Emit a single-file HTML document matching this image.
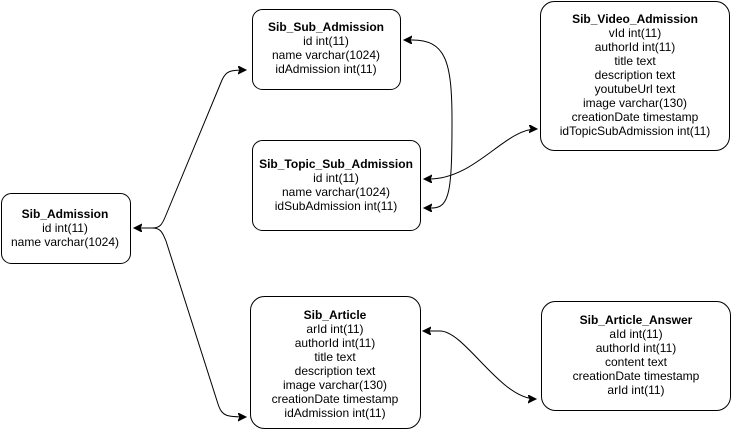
<!DOCTYPE html>
<html><head><style>
html,body{margin:0;padding:0;background:#fff;}
svg{display:block;}
text{font-family:"Liberation Sans",Arial,sans-serif;font-size:12px;fill:#000;text-anchor:middle;}
.b{font-weight:bold;}
rect{fill:#fff;stroke:#000;stroke-width:1;}
path{fill:none;stroke:#000;stroke-width:1;}
.ah{fill:#000;stroke:#000;}
</style></head><body>
<svg width="732" height="432" viewBox="0 0 732 432">
<defs>
<marker id="a" markerWidth="10" markerHeight="10" refX="8" refY="4" orient="auto" markerUnits="userSpaceOnUse">
<path d="M0,0 L8,4 L0,8 L2,4 Z" class="ah"/>
</marker>
</defs>
<path d="M152,228 C160,228 162,225 166,215 L222,80 C226,71 230,70 246,70" marker-end="url(#a)"/>
<path d="M152,228 C160,228 162,231 166,241 L218,404 C222,416 226,417 246,417" marker-end="url(#a)"/>
<path d="M152,228 L134,228" marker-end="url(#a)"/>
<path d="M412,40 C445,40 452,60 452,120 C452,190 450,208 432,208"/>
<path d="M414,40 L404,40" marker-end="url(#a)"/>
<path d="M434,208 L424,208" marker-end="url(#a)"/>
<path d="M428,179 C475,180 505,128 537,129" marker-end="url(#a)"/>
<path d="M430,179 L424,179" marker-end="url(#a)"/>
<path d="M440,331 C465,331 500,399 536,399" marker-end="url(#a)"/>
<path d="M440,331 L423,331" marker-end="url(#a)"/>
<rect x="1.5" y="193.5" width="129" height="70" rx="10"/>
<text class="b" x="65" y="218">Sib_Admission</text>
<text x="65" y="232">id int(11)</text>
<text x="65" y="246">name varchar(1024)</text>

<rect x="252.5" y="9.5" width="148" height="80" rx="10"/>
<text class="b" x="326" y="31">Sib_Sub_Admission</text>
<text x="326" y="45">id int(11)</text>
<text x="326" y="59">name varchar(1024)</text>
<text x="326" y="73">idAdmission int(11)</text>

<rect x="252.5" y="140.5" width="168" height="90" rx="10"/>
<text class="b" x="336" y="168">Sib_Topic_Sub_Admission</text>
<text x="336" y="182">id int(11)</text>
<text x="336" y="196">name varchar(1024)</text>
<text x="336" y="210">idSubAdmission int(11)</text>

<rect x="540.5" y="1.5" width="189" height="149" rx="14"/>
<text class="b" x="635" y="23">Sib_Video_Admission</text>
<text x="635" y="37">vId int(11)</text>
<text x="635" y="51">authorId int(11)</text>
<text x="635" y="65">title text</text>
<text x="635" y="79">description text</text>
<text x="635" y="93">youtubeUrl text</text>
<text x="635" y="107">image varchar(130)</text>
<text x="635" y="121">creationDate timestamp</text>
<text x="635" y="135">idTopicSubAdmission int(11)</text>

<rect x="250.5" y="296.5" width="170" height="132" rx="14"/>
<text class="b" x="335" y="319">Sib_Article</text>
<text x="335" y="333">arId int(11)</text>
<text x="335" y="347">authorId int(11)</text>
<text x="335" y="361">title text</text>
<text x="335" y="375">description text</text>
<text x="335" y="389">image varchar(130)</text>
<text x="335" y="403">creationDate timestamp</text>
<text x="335" y="417">idAdmission int(11)</text>

<rect x="541.5" y="301.5" width="189" height="109" rx="14"/>
<text class="b" x="636" y="324">Sib_Article_Answer</text>
<text x="636" y="338">aId int(11)</text>
<text x="636" y="352">authorId int(11)</text>
<text x="636" y="366">content text</text>
<text x="636" y="380">creationDate timestamp</text>
<text x="636" y="394">arId int(11)</text>
</svg>
</body></html>
